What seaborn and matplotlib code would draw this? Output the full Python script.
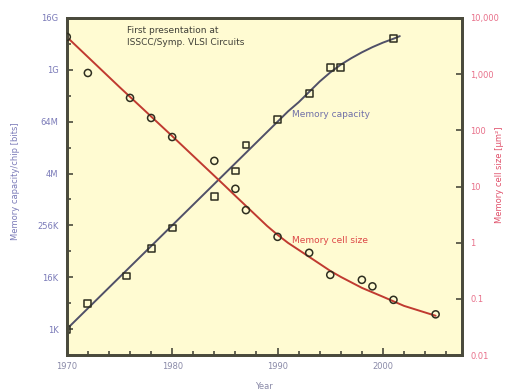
import pandas as pd
import seaborn as sns
import matplotlib.pyplot as plt
from matplotlib.ticker import FixedLocator, NullFormatter

sns.set_theme(style="ticks")
plt.rcParams["font.family"] = ["DejaVu Sans"]

# memory capacity per chip, measured points (exponent of 2, bits)
cap_years = [1970, 1972, 1975.7, 1978, 1980, 1984, 1986, 1987, 1990, 1993, 1995, 1996, 2001]
cap_log2 = [10, 12, 14.1, 16.2, 17.8, 20.2, 22.2, 24.2, 26.2, 28.2, 30.2, 30.2, 32.4]

# capacity trend curve
cap_trend_years = [1970, 1975, 1980, 1985, 1990, 1991, 1992, 1993, 1994, 1995, 1996,
                   1997, 1998, 1999, 2000, 2001, 2001.6]
cap_trend_log2 = [10, 14, 18, 22, 26, 26.8, 27.5, 28.3, 29.1, 29.8, 30.4,
                  30.9, 31.35, 31.75, 32.1, 32.4, 32.6]

# memory cell size [um^2]
cell_years = [1970, 1972, 1976, 1978, 1980, 1984, 1986, 1987, 1990, 1993, 1995, 1998, 1999, 2001, 2005]
cell_size = [4600, 1050, 378, 166, 76, 28.6, 9.1, 3.8, 1.27, 0.66, 0.267, 0.218, 0.167, 0.096, 0.053]

cell_trend_years = [1970, 1975, 1980, 1985, 1986, 1988, 1989, 1990, 1991, 1992, 1993,
                    1994, 1995, 1996, 1998, 2000, 2002, 2005]
cell_trend = [4600, 590, 79, 10.3, 6.8, 3.0, 1.99, 1.38, 0.99, 0.745, 0.559,
              0.42, 0.315, 0.246, 0.157, 0.109, 0.075, 0.050]

left_ticks = [10, 14, 18, 22, 26, 30, 34]
left_labels = ["1K", "16K", "256K", "4M", "64M", "1G", "16G"]
right_ticks = [0.01, 0.1, 1, 10, 100, 1000, 10000]
right_labels = ["0.01", "0.1", "1", "10", "100", "1,000", "10,000"]
x_ticks = [1970, 1980, 1990, 2000]

cap = pd.DataFrame({"year": cap_years, "bits": [2.0 ** k for k in cap_log2]})
cap_trend = pd.DataFrame({"year": cap_trend_years, "bits": [2.0 ** k for k in cap_trend_log2]})
cell = pd.DataFrame({"year": cell_years, "size": cell_size})
cell_tr = pd.DataFrame({"year": cell_trend_years, "size": cell_trend})

frame = "#4a4a3c"
blue = "#7a7ab8"

fig = plt.figure(figsize=(5.06, 3.91), dpi=100)
ax = fig.add_axes([0.132, 0.092, 0.781, 0.862])
ax.set_facecolor("#fffbd2")
ax2 = ax.twinx()

sns.lineplot(data=cap_trend, x="year", y="bits", ax=ax, color="#505068", linewidth=1.4)
sns.scatterplot(data=cap, x="year", y="bits", ax=ax, marker="s", s=24,
                facecolor="none", edgecolor="#2e2e20", linewidth=1.1, zorder=3)

sns.lineplot(data=cell_tr, x="year", y="size", ax=ax2, color="#c03a30", linewidth=1.4)
sns.scatterplot(data=cell, x="year", y="size", ax=ax2, marker="o", s=26,
                facecolor="none", edgecolor="#2e2e20", linewidth=1.1, zorder=3)

ax.set_yscale("log", base=2)
ax.set_ylim(2.0 ** 8, 2.0 ** 34)
ax.yaxis.set_major_locator(FixedLocator([2.0 ** k for k in left_ticks]))
ax.set_yticklabels(left_labels)
ax.yaxis.set_minor_locator(FixedLocator([2.0 ** (k + 2) for k in left_ticks[:-1]] + [2.0 ** 8]))
ax.yaxis.set_minor_formatter(NullFormatter())

ax2.set_yscale("log")
ax2.set_ylim(0.01, 10000)
ax2.yaxis.set_major_locator(FixedLocator(right_ticks))
ax2.set_yticklabels(right_labels)
ax2.yaxis.set_minor_locator(FixedLocator([]))

ax.set_xlim(1970, 2007.5)
ax.set_xticks(x_ticks)
ax.xaxis.set_minor_locator(FixedLocator(range(1972, 2007, 2)))

ax.tick_params(axis="x", which="major", direction="in", length=5, width=1.2,
               color=frame, labelsize=6, labelcolor="#8a8aa8", pad=5)
ax.tick_params(axis="x", which="minor", direction="in", length=3, width=1.2, color=frame)
ax.tick_params(axis="y", which="major", direction="in", length=4, width=1.2,
               color=frame, labelsize=6, labelcolor=blue, pad=6)
ax.tick_params(axis="y", which="minor", direction="in", length=3, width=1.2, color=frame)
ax2.tick_params(axis="y", which="major", direction="in", length=4, width=1.2,
                color=frame, labelsize=6, labelcolor="#e8708a", pad=6)

for a in (ax, ax2):
    for sp in a.spines.values():
        sp.set_color(frame)
        sp.set_linewidth(2)
        sp.set_visible(True)

ax.set_xlabel("Year", fontsize=6, color="#8a8aa8", labelpad=8)
ax.set_ylabel("Memory capacity/chip [bits]", fontsize=6, color=blue)
ax.yaxis.set_label_coords(-0.118, 0.515)
ax2.set_ylabel("Memory cell size [\u03bcm\u00b2]", fontsize=6, color="#e0506a")
ax2.yaxis.set_label_coords(1.084, 0.534)

ax.text(0.152, 0.975, "First presentation at\nISSCC/Symp. VLSI Circuits",
        transform=ax.transAxes, fontsize=6.5, color="#404038", va="top", ha="left",
        linespacing=1.3)
ax.text(0.57, 0.715, "Memory capacity", transform=ax.transAxes,
        fontsize=6.5, color="#7070a8", va="center", ha="left")
ax.text(0.57, 0.34, "Memory cell size", transform=ax.transAxes,
        fontsize=6.5, color="#dd4848", va="center", ha="left")

fig.savefig("out.png", dpi=100)
